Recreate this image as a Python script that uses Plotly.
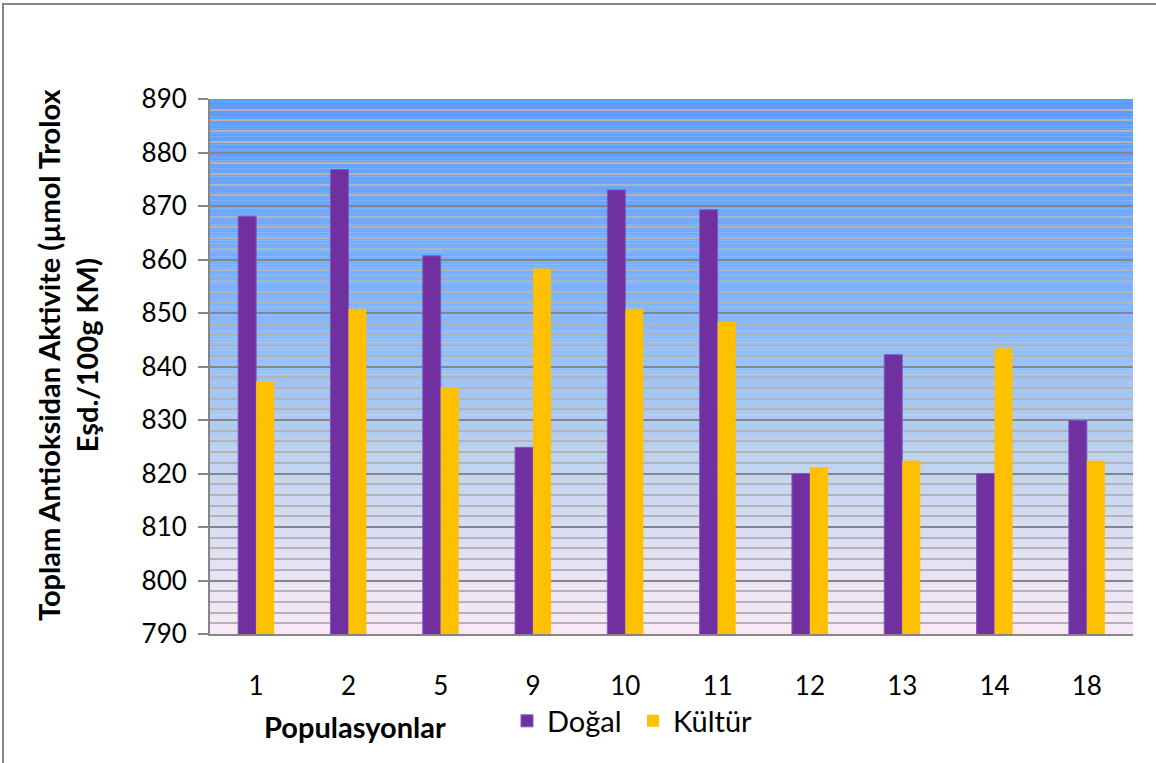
import plotly.graph_objects as go

categories = ["1", "2", "5", "9", "10", "11", "12", "13", "14", "18"]
dogal = [868.1, 876.8, 860.7, 824.9, 873.0, 869.3, 820.0, 842.2, 820.0, 829.9]
kultur = [837.3, 850.8, 836.1, 858.3, 850.8, 848.3, 821.1, 822.4, 843.4, 822.4]
y_ticks = [790, 800, 810, 820, 830, 840, 850, 860, 870, 880, 890]

W, H = 1156, 763
L, R, T, B = 210, 1133, 99, 634
FONT = "Lato, 'Open Sans', sans-serif"

fig = go.Figure()
fig.add_trace(go.Bar(name="Doğal", x=categories, y=dogal,
                     marker=dict(color="#7030A0", line=dict(color="#7B5BC4", width=1))))
fig.add_trace(go.Bar(name="Kültür", x=categories, y=kultur,
                     marker=dict(color="#FFC000", line=dict(width=0))))

# gradient background as bands (below gridlines)
stops = [(0.0, (91, 155, 255)), (0.36, (122, 180, 255)), (0.66, (186, 208, 238)),
         (0.82, (220, 222, 243)), (1.0, (249, 233, 247))]

def col(t):
    for (t0, c0), (t1, c1) in zip(stops[:-1], stops[1:]):
        if t0 <= t <= t1:
            f = (t - t0) / (t1 - t0)
            return "rgb(%d,%d,%d)" % tuple(round(a + (b - a) * f) for a, b in zip(c0, c1))
    return "rgb(%d,%d,%d)" % stops[-1][1]

ymin, ymax = 790, 890
n = 200
shapes = []
for i in range(n):
    y0 = ymax - (ymax - ymin) * i / n
    y1 = ymax - (ymax - ymin) * (i + 1) / n
    shapes.append(dict(type="rect", xref="paper", yref="y", x0=0, x1=1, y0=y1, y1=y0 + 0.05,
                       fillcolor=col((i + 0.5) / n), line=dict(width=0), layer="below"))

pw, ph = R - L, B - T
def px(x):
    return (x - L) / pw
def py(y):
    return (B - y) / ph

shapes.append(dict(type="rect", xref="paper", yref="paper",
                   x0=px(3), x1=px(1160), y0=py(766), y1=py(4),
                   line=dict(color="#868686", width=2), fillcolor="rgba(0,0,0,0)", layer="above"))

fig.update_layout(
    width=W, height=H,
    margin=dict(l=L, r=W - R, t=T, b=H - B),
    paper_bgcolor="white", plot_bgcolor="rgba(0,0,0,0)",
    barmode="group", bargap=0.61, bargroupgap=0,
    shapes=shapes,
    font=dict(family=FONT, color="black"),
    showlegend=True,
    legend=dict(orientation="h", x=px(507), y=py(721), xanchor="left", yanchor="middle",
                font=dict(size=29, family=FONT), bgcolor="rgba(0,0,0,0)",
                itemwidth=30, tracegroupgap=0, entrywidth=81, entrywidthmode="pixels"),
    xaxis=dict(showgrid=False, showline=True, linecolor="#868686", linewidth=2,
               ticks="", tickfont=dict(size=26), ticklabelstandoff=28, zeroline=False),
    yaxis=dict(range=[ymin, ymax], tickvals=y_ticks, showgrid=True, gridcolor="#868686",
               gridwidth=2, showline=True, linecolor="#868686", linewidth=2,
               ticks="outside", ticklen=10, tickcolor="#868686", tickwidth=2,
               tickfont=dict(size=26), ticklabelstandoff=6, zeroline=False,
               minor=dict(dtick=2, showgrid=True, gridcolor="#B4B4B4", gridwidth=2, ticks="")),
    annotations=[
        dict(text="<b>Toplam Antioksidan Aktivite (µmol Trolox<br>Eşd./100g KM)</b>",
             xref="paper", yref="paper", x=px(67), y=py(355), textangle=-90,
             showarrow=False, font=dict(size=29, family=FONT), align="center",
             xanchor="center", yanchor="middle"),
        dict(text="<b>Populasyonlar</b>", xref="paper", yref="paper", x=px(355), y=py(726),
             showarrow=False, font=dict(size=29, family=FONT), xanchor="center", yanchor="middle"),
    ],
)

fig.write_html("out.html")
